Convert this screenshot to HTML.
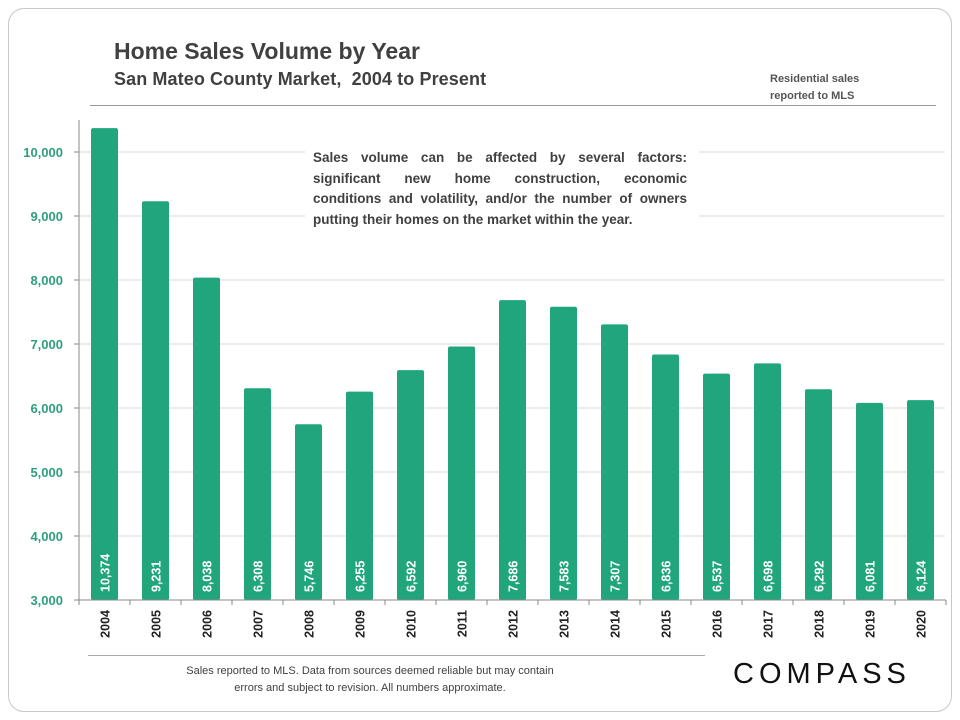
<!DOCTYPE html>
<html><head><meta charset="utf-8"><style>
body{margin:0;background:#fff;width:960px;height:720px;position:relative;font-family:"Liberation Sans",sans-serif;overflow:hidden}
.frame{position:absolute;left:8px;top:8px;width:942px;height:702px;border:1px solid #c8c8c8;border-radius:16px}
.t{position:absolute;color:#404040;font-weight:bold;white-space:nowrap}
.ln{text-align:justify;text-align-last:justify;white-space:nowrap}
</style></head><body>
<div class="frame"></div>
<div class="t" style="left:114px;top:38px;font-size:23px">Home Sales Volume by Year</div>
<div class="t" style="left:114px;top:69px;font-size:18px;letter-spacing:0.1px">San Mateo County Market,&nbsp; 2004 to Present</div>
<div class="t" style="left:770px;top:71px;font-size:11px;line-height:17px;color:#555">Residential sales<br>reported to MLS</div>
<div style="position:absolute;left:90px;top:105px;width:846px;height:1px;background:#999"></div>
<svg id="chart" width="960" height="720" style="position:absolute;left:0;top:0"></svg>
<div style="position:absolute;left:305px;top:148px;width:382px;height:82px;background:#fff;padding:0 4px 0 8px;color:#404040;font-weight:bold;font-size:13.5px;line-height:20.5px">
<div class="ln" style="width:374px">Sales volume can be affected by several factors:</div>
<div class="ln" style="width:374px">significant new home construction, economic</div>
<div class="ln" style="width:374px">conditions and volatility, and/or the number of owners</div>
<div style="white-space:nowrap">putting their homes on the market within the year.</div>
</div>
<div style="position:absolute;left:88px;top:655px;width:617px;height:1px;background:#aaa"></div>
<div style="position:absolute;left:160px;top:663px;width:420px;text-align:center;font-size:11px;line-height:17px;color:#404040">Sales reported to MLS. Data from sources deemed reliable but may contain<br>errors and subject to revision. All numbers approximate.</div>
<div style="position:absolute;left:733px;top:658px;font-size:29px;letter-spacing:5px;color:#111;font-family:'Liberation Sans',sans-serif">COMPASS</div>
<script>
const years=["2004","2005","2006","2007","2008","2009","2010","2011","2012","2013","2014","2015","2016","2017","2018","2019","2020"];
const sales=[10374,9231,8038,6308,5746,6255,6592,6960,7686,7583,7307,6836,6537,6698,6292,6081,6124];
const yTicks=[3000,4000,5000,6000,7000,8000,9000,10000];
const svg=document.getElementById('chart');const NS='http://www.w3.org/2000/svg';
const x0=79,band=51,yMin=3000,yMax=10000,py0=600,py1=152;
const y=v=>py0-(v-yMin)/(yMax-yMin)*(py0-py1);
const xc=i=>x0+band*(i+0.5);
function mk(t,a,txt){const e=document.createElementNS(NS,t);for(const k in a)e.setAttribute(k,a[k]);if(txt!=null)e.textContent=txt;svg.appendChild(e);return e;}
yTicks.forEach(v=>{
 if(v>yMin){const g=mk('line',{x1:x0,x2:945,y1:y(v),y2:y(v),stroke:'#d9d9d9','stroke-width':1});
 
 }
 const tk=mk('line',{x1:x0-5,x2:x0,y1:y(v),y2:y(v),stroke:'#888'});
 
 
 const l=mk('text',{x:63,y:y(v)+5,'text-anchor':'end','font-size':13,'font-weight':'bold',fill:'#2e9e7e','font-family':'Liberation Sans, sans-serif'},v.toLocaleString('en-US'));
 
 
});
sales.forEach((v,i)=>{
 const b=mk('rect',{x:xc(i)-13.5,y:y(v),width:27,height:py0-y(v),fill:'#21a57c',rx:2});
 
 
 const vl=mk('text',{transform:`translate(${xc(i)+5},${py0-8}) rotate(-90)`,'font-size':12.5,'font-weight':'bold',fill:'#fff','font-family':'Liberation Sans, sans-serif'},v.toLocaleString('en-US'));
 
 
 const xl=mk('text',{transform:`translate(${xc(i)+5},${py0+10}) rotate(-90)`,'text-anchor':'end','font-size':12.5,'font-weight':'bold',fill:'#222','font-family':'Liberation Sans, sans-serif'},years[i]);
 
 
 const t=mk('line',{x1:x0+band*(i+1),x2:x0+band*(i+1),y1:py0,y2:py0+5,stroke:'#888'});
 
 
});
const ax=mk('line',{x1:x0,x2:x0,y1:120,y2:py0+5,stroke:'#888'});


const bx=mk('line',{x1:x0-5,x2:946,y1:py0,y2:py0,stroke:'#888'});


</script>
</body></html>
